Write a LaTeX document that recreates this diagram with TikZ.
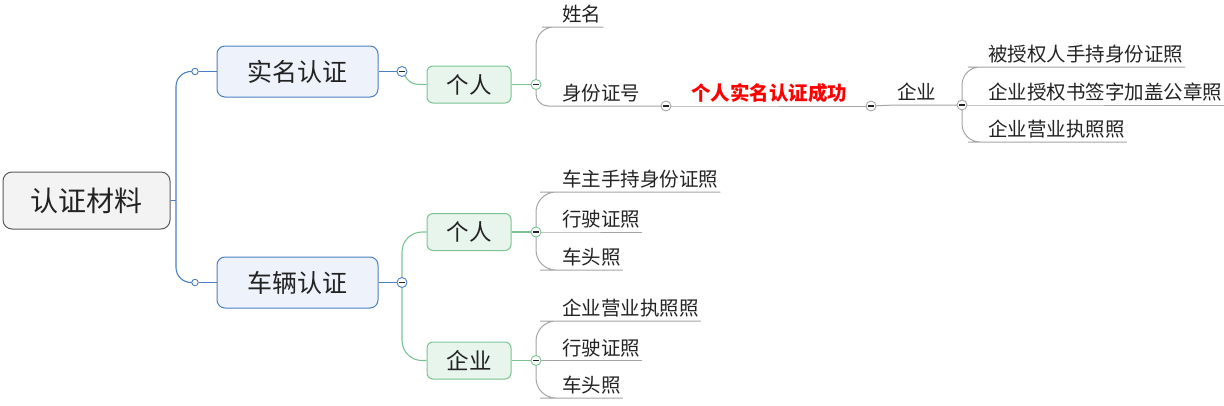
\documentclass[tikz,border=0pt]{standalone}
\usepackage{fontspec}
\newfontfamily\cjk{Noto Sans CJK SC}
\usetikzlibrary{backgrounds}
\definecolor{bl}{HTML}{4A7FC1}
\definecolor{blfill}{HTML}{EEF3FB}
\definecolor{gr}{HTML}{7CC393}
\definecolor{grfill}{HTML}{E8F5EC}
\definecolor{gy}{HTML}{A5A5A5}
\definecolor{rootfill}{HTML}{F3F3F3}
\definecolor{rootdraw}{HTML}{5A5A5A}
\definecolor{txt}{HTML}{222222}
\tikzset{
  rootbox/.style={draw=rootdraw, fill=rootfill, rounded corners=9pt, minimum width=167pt, minimum height=57pt, inner sep=0pt, line width=1pt, text=txt, font=\cjk\fontsize{28}{30}\selectfont},
  midbox/.style={draw=bl, fill=blfill, rounded corners=8pt, minimum width=161pt, minimum height=51pt, inner sep=0pt, line width=1pt, text=txt, font=\cjk\fontsize{25}{27}\selectfont},
  subbox/.style={draw=gr, fill=grfill, rounded corners=6pt, minimum width=84pt, minimum height=37pt, inner sep=0pt, line width=1pt, text=txt, font=\cjk\fontsize{22.5}{24}\selectfont},
  leaf/.style={anchor=south west, inner xsep=2pt, inner ysep=0pt, text height=15pt, text depth=5pt, text=txt, font=\cjk\fontsize{19.5}{21}\selectfont},
  btn/.style={circle, draw=#1, fill=white, minimum size=10pt, inner sep=0pt, line width=0.9pt,
    path picture={\draw[line width=1.1pt, txt] ([xshift=-2.6pt]path picture bounding box.center) -- ([xshift=2.6pt]path picture bounding box.center);}},
  dot/.style={circle, draw=bl, fill=white, minimum size=6.5pt, inner sep=0pt, line width=0.9pt},
  bline/.style={draw=bl, line width=1.1pt},
  gline/.style={draw=gr, line width=1.1pt},
  yline/.style={draw=gy, line width=1pt},
}
\begin{document}
\begin{tikzpicture}[x=1pt,y=-1pt]
\useasboundingbox (0,0) rectangle (1224,405);
% boxes
\node[rootbox] (r) at (86.5,200.5) {认证材料};
\node[midbox] (m1) at (297.5,71.5) {实名认证};
\node[midbox] (m2) at (297.5,282.5) {车辆认证};
\node[subbox] (p1) at (469,84.5) {个人};
\node[subbox] (p2) at (469,232) {个人};
\node[subbox] (e2) at (469,360.5) {企业};
% buttons
\coordinate (rj) at (176,200.5);
\node[dot] (s1) at (195,71.5) {};
\node[dot] (s2) at (195,282.5) {};
\node[btn=bl] (c1) at (402,71.5) {};
\node[btn=bl] (c6) at (402,282.5) {};
\node[btn=gr] (c2) at (536,84.5) {};
\node[btn=gr] (c7) at (536,232) {};
\node[btn=gr] (c8) at (536,360.5) {};
\node[btn=gy] (c3) at (666,106) {};
\node[btn=gy] (c4) at (871,106) {};
\node[btn=gy] (c5) at (962,105) {};
% leaves
\node[leaf] (l1) at (560,27) {姓名};
\node[leaf] (l2) at (560,106) {身份证号};
\node[leaf, text=red, font=\cjk\fontsize{19.5}{21}\selectfont\bfseries] (ok) at (689,106) {个人实名认证成功};
\node[leaf] (qy) at (895,105) {企业};
\node[leaf] (q1) at (986,67) {被授权人手持身份证照};
\node[leaf] (q2) at (986,105) {企业授权书签字加盖公章照};
\node[leaf] (q3) at (986,142) {企业营业执照照};
\node[leaf] (a1) at (560,192) {车主手持身份证照};
\node[leaf] (a2) at (560,232) {行驶证照};
\node[leaf] (a3) at (560,270) {车头照};
\node[leaf] (b1) at (560,321) {企业营业执照照};
\node[leaf] (b2) at (560,360.5) {行驶证照};
\node[leaf] (b3) at (560,398) {车头照};
\begin{scope}[on background layer]
\draw[bline] (r.east) -- (rj);
\draw[bline, rounded corners=15pt] (rj) |- (s1.center);
\draw[bline, rounded corners=15pt] (rj) |- (s2.center);
\draw[bline] (s1) -- (m1.west);
\draw[bline] (s2) -- (m2.west);
\draw[bline] (m1.east) -- (c1.center);
\draw[bline] (m2.east) -- (c6.center);
\draw[gline] (c1.center) .. controls (410,84.5) and (412,84.5) .. (p1.west);
\draw[gline, rounded corners=20pt] (c6.center) |- (p2.west);
\draw[gline, rounded corners=20pt] (c6.center) |- (e2.west);
\draw[gline] (p1.east) -- (c2.center);
\draw[gline] (p2.east) -- (c7.center);
\draw[gline] (e2.east) -- (c8.center);
% top leaves
\draw[yline, rounded corners=18pt] (c2.center) |- (l1.south west) -- (l1.south east);
\draw[yline, rounded corners=12pt] (c2.center) |- (l2.south west) -- (c3.center);
\draw[yline] (c3.center) -- (ok.south west) -- (c4.center);
\draw[yline] (c4.center) -- (qy.south west) -- (c5.center);
\draw[yline, rounded corners=18pt] (c5.center) |- (q1.south west) -- (q1.south east);
\draw[yline] (c5.center) -- (q2.south west) -- (q2.south east);
\draw[yline, rounded corners=18pt] (c5.center) |- (q3.south west) -- (q3.south east);
% bottom leaves
\draw[yline, rounded corners=20pt] (c7.center) |- (a1.south west) -- (a1.south east);
\draw[yline] (c7.center) -- (a2.south west) -- (a2.south east);
\draw[yline, rounded corners=20pt] (c7.center) |- (a3.south west) -- (a3.south east);
\draw[yline, rounded corners=20pt] (c8.center) |- (b1.south west) -- (b1.south east);
\draw[yline] (c8.center) -- (b2.south west) -- (b2.south east);
\draw[yline, rounded corners=20pt] (c8.center) |- (b3.south west) -- (b3.south east);
\end{scope}
\end{tikzpicture}
\end{document}
